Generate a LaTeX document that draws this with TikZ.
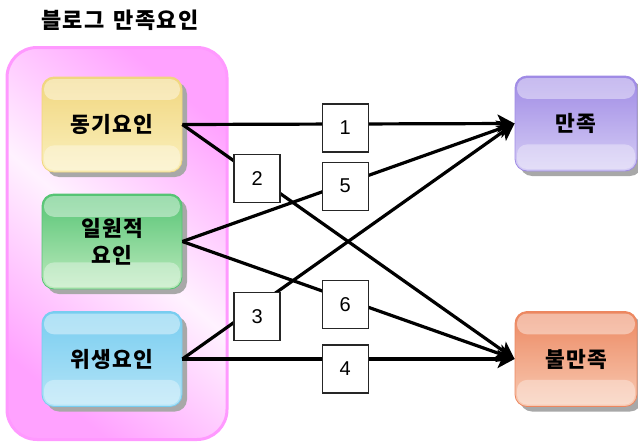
\documentclass[tikz,border=0pt]{standalone}
\usepackage{fontspec}
\newfontfamily\kr{Noto Sans CJK KR}[LetterSpace=6]
\newfontfamily\numfont{Liberation Sans}
\usetikzlibrary{arrows.meta,shadows,calc}

\definecolor{grpedge}{HTML}{FF99FF}
\definecolor{grpfill}{HTML}{FFA2FF}
\definecolor{grpmid}{HTML}{FFF2FF}
\definecolor{shadowgray}{HTML}{A8A8A8}
\definecolor{ylTop}{HTML}{F1D67E}
\definecolor{ylBot}{HTML}{FAF0BE}
\definecolor{grTop}{HTML}{55C474}
\definecolor{grBot}{HTML}{BDEABD}
\definecolor{blTop}{HTML}{78CDF0}
\definecolor{blBot}{HTML}{B4E4F7}
\definecolor{puTop}{HTML}{9F8AE5}
\definecolor{puBot}{HTML}{D6CEF5}
\definecolor{orTop}{HTML}{EC8760}
\definecolor{orBot}{HTML}{F8CBB4}

\tikzset{
  glassbox/.style 2 args={
    rounded corners=12pt, inner sep=0pt, align=center,
    draw=#1, line width=0.8pt, top color=#1, bottom color=#2,
    font=\kr\bfseries\fontsize{21.5}{27}\selectfont,
    drop shadow={fill=shadowgray, opacity=1, shadow xshift=5pt, shadow yshift=-5pt},
    path picture={
      \fill[white, opacity=0.42, rounded corners=10pt]
        ([xshift=2pt,yshift=-2pt]path picture bounding box.north west) rectangle
        ($(path picture bounding box.north east)!0.24!(path picture bounding box.south east)+(-2pt,0)$);
      \fill[white, opacity=0.35, rounded corners=10pt]
        ($(path picture bounding box.north west)!0.72!(path picture bounding box.south west)+(2pt,0)$) rectangle
        ([xshift=-2pt,yshift=2pt]path picture bounding box.south east);
    }},
  factor/.style={minimum width=140pt, minimum height=95pt},
  result/.style={minimum width=122pt, minimum height=95pt},
  lab/.style={draw=black!85, line width=1.3pt, fill=white, minimum width=46pt,
    minimum height=48pt, inner sep=0pt, font=\numfont\fontsize{20}{20}\selectfont},
  conn/.style={line width=3.2pt, -{Stealth[length=17pt,width=18pt,inset=4pt]}},
}

\begin{document}
\begin{tikzpicture}[x=1pt,y=-1pt]
\useasboundingbox (0,0) rectangle (638,442);

% title
\node[anchor=west, inner sep=0pt, font=\kr\bfseries\fontsize{22}{22}\selectfont] (title) at (41,20) {블로그\hspace{9pt}만족요인};

% group frame
\node[rounded corners=30pt, draw=grpedge, line width=3pt,
      left color=grpfill, right color=grpfill, middle color=grpmid, shading angle=-40,
      minimum width=220pt, minimum height=392pt] (grp) at (117,243.5) {};

% factor boxes
\node[glassbox={ylTop}{ylBot}, factor] (dong) at (112,124.5) {동기요인};
\node[glassbox={grTop}{grBot}, factor] (ilwon) at (112,241.5) {일원적\\요인};
\node[glassbox={blTop}{blBot}, factor] (wisaeng) at (112,359) {위생요인};

% outcome boxes
\node[glassbox={puTop}{puBot}, result] (man) at (576,123.5) {만족};
\node[glassbox={orTop}{orBot}, result] (bulman) at (576,359) {불만족};

% connectors with their labels
\draw[conn] (dong.east) -- node[lab, pos=0.49, yshift=-4pt] (l1) {1} (man.west);
\draw[conn] (dong.east) -- node[lab, pos=0.225, yshift=-1.5pt] (l2) {2} (bulman.west);
\draw[conn] (ilwon.east) -- node[lab, pos=0.49, yshift=-2.5pt] (l5) {5} (man.west);
\draw[conn] (ilwon.east) -- node[lab, pos=0.49, yshift=-5.7pt] (l6) {6} (bulman.west);
\draw[conn] (wisaeng.east) -- node[lab, pos=0.225, yshift=-10.6pt] (l3) {3} (man.west);
\draw[conn] (wisaeng.east) -- node[lab, pos=0.49, yshift=-10pt] (l4) {4} (bulman.west);
\end{tikzpicture}
\end{document}
